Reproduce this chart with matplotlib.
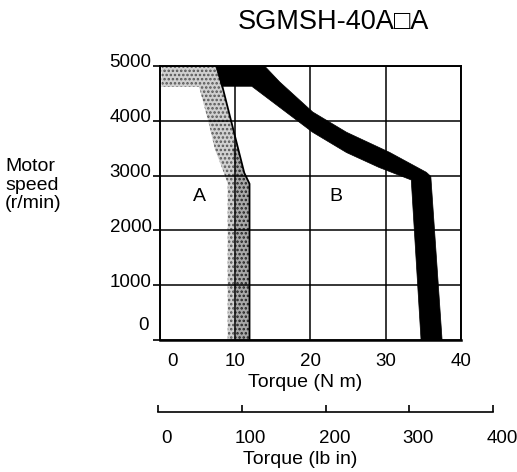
import matplotlib
matplotlib.use("Agg")
import matplotlib.pyplot as plt
from matplotlib.transforms import ScaledTranslation

plt.rcParams['font.family'] = ['Liberation Sans', 'DejaVu Sans']
plt.rcParams['hatch.linewidth'] = 1.2

TITLE = "SGMSH-40A\u25a1A"
SPEED_TICKS = [0, 1000, 2000, 3000, 4000, 5000]
TORQUE_NM_TICKS = [0, 10, 20, 30, 40]
TORQUE_LBIN_TICKS = [0, 100, 200, 300, 400]

# zone A (continuous duty): stippled band
A_LIGHT_TORQUE = [0.2, 7.6, 11.2, 11.9, 11.9, 9.0, 9.0, 8.5, 7.3, 6.4, 5.2, 0.2]
A_LIGHT_SPEED = [5000, 5000, 3050, 2850, 0, 0, 2850, 3050, 3480, 4000, 4620, 4620]
A_DARK_TORQUE = [10.1, 11.9, 11.9, 11.2, 10.4, 9.6, 10.1]
A_DARK_SPEED = [0, 0, 2850, 3050, 3500, 3500, 3000]
A_EDGE_TORQUE = [7.6, 11.2, 11.9, 11.9]
A_EDGE_SPEED = [5000, 3050, 2850, 0]

# zone B (intermittent duty): black band
B_TORQUE = [7.4, 13.9, 15.9, 20.3, 24.8, 30.5, 35.4, 36.0, 37.5,
            34.7, 33.4, 29.1, 24.8, 20.3, 12.2, 8.2]
B_SPEED = [5000, 5000, 4710, 4160, 3790, 3425, 3060, 2985, 0,
           0, 2920, 3150, 3420, 3790, 4630, 4630]

fig = plt.figure(figsize=(5.17, 4.72), dpi=100)
ax = fig.add_axes([0.3095, 0.2797, 0.582, 0.5805])

ax.fill(A_LIGHT_TORQUE, A_LIGHT_SPEED, facecolor='#d0d0d0', edgecolor='#555555',
        hatch='....', linewidth=0)
ax.fill(A_DARK_TORQUE, A_DARK_SPEED, facecolor='#a8a8a8', edgecolor='#222222',
        hatch='....', linewidth=0)
ax.plot(A_EDGE_TORQUE, A_EDGE_SPEED, color='black', lw=1.3)
ax.fill(B_TORQUE, B_SPEED, facecolor='black', edgecolor='black', linewidth=0.5)

ax.text(5.3, 2620, "A", fontsize=14, ha='center', va='center')
ax.text(23.4, 2620, "B", fontsize=14, ha='center', va='center')

ax.set_xlim(0, 40)
ax.set_ylim(0, 5000)
ax.set_xticks(TORQUE_NM_TICKS)
ax.set_yticks(SPEED_TICKS)
ax.grid(True, color='black', lw=1.1)
for s in ax.spines.values():
    s.set_linewidth(1.4)
ax.spines['bottom'].set_linewidth(1.8)
ax.tick_params(axis='x', length=0, pad=9.5, labelsize=13.5)
ax.tick_params(axis='y', length=5, width=1.2, pad=1, labelsize=13.5)

for lab in ax.get_yticklabels():
    if lab.get_text() == '0':
        off = ScaledTranslation(-0.03, 0.16, fig.dpi_scale_trans)
    else:
        off = ScaledTranslation(0, 0.05, fig.dpi_scale_trans)
    lab.set_transform(lab.get_transform() + off)
ax.get_xticklabels()[0].set_transform(
    ax.get_xticklabels()[0].get_transform() + ScaledTranslation(0.12, 0, fig.dpi_scale_trans))

ax.set_xlabel("Torque (N m)", fontsize=14)
ax.xaxis.set_label_coords(0.482, -0.125)

fig.text(0.645, 0.953, TITLE, fontsize=19.5, ha='center', va='center')
fig.text(0.01, 1 - 185 / 472, "Motor\nspeed\n(r/min)", fontsize=14, ha='left', va='center',
         linespacing=1.15)

# lower scale in lb in
ax2 = fig.add_axes([158 / 517, 1 - 412 / 472, (493 - 158) / 517, 0.01])
ax2.set_xlim(0, 400)
ax2.set_xticks(TORQUE_LBIN_TICKS)
ax2.set_yticks([])
for side in ['top', 'left', 'right']:
    ax2.spines[side].set_visible(False)
ax2.spines['bottom'].set_linewidth(1.2)
ax2.patch.set_visible(False)
ax2.tick_params(axis='x', direction='in', length=5, width=1.2, pad=13, labelsize=13.5)
for lab in ax2.get_xticklabels():
    lab.set_transform(lab.get_transform() + ScaledTranslation(0.09, 0, fig.dpi_scale_trans))
fig.text(300 / 517, 1 - 459 / 472, "Torque (lb in)", fontsize=14, ha='center', va='center')

fig.savefig("out.png", dpi=100)
